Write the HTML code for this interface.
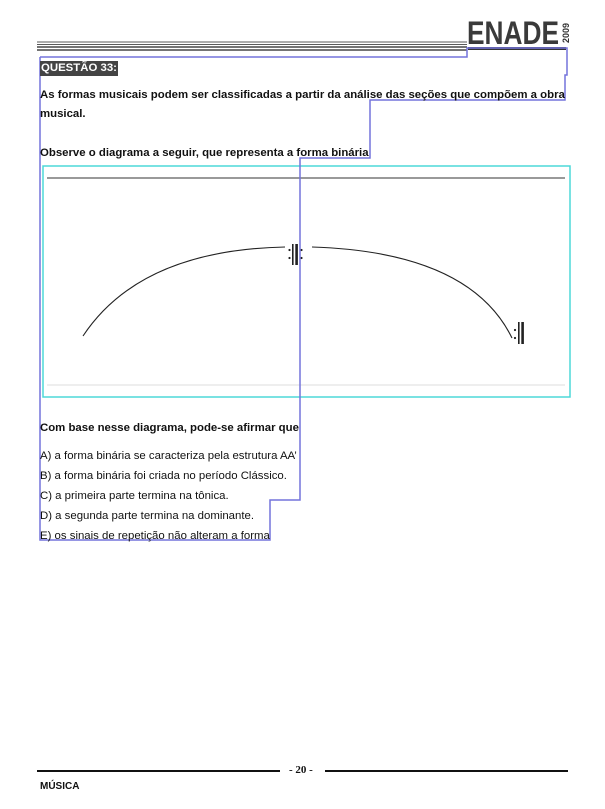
<!DOCTYPE html>
<html><head><meta charset="utf-8"><style>
body{margin:0;width:605px;height:809px;background:#fff;position:relative;overflow:hidden;font-family:"Liberation Sans",Arial,sans-serif;color:#111}
.t{position:absolute;white-space:nowrap;font-size:11.4px}
.b{font-weight:bold}
</style></head><body>
<svg width="605" height="809" style="position:absolute;left:0;top:0">
 <g stroke="#222">
  <line x1="37" y1="42" x2="467" y2="42" stroke-width="0.8"/>
  <line x1="37" y1="44.5" x2="467" y2="44.5" stroke-width="0.8"/>
  <line x1="37" y1="47" x2="467" y2="47" stroke-width="1.2"/>
  <line x1="37" y1="50" x2="467" y2="50" stroke-width="1.2"/>
 </g>
 <rect x="468" y="47" width="98" height="3" fill="#333"/>
 <text x="467" y="44" font-family="Liberation Sans Narrow,Liberation Sans,sans-serif" font-weight="bold" font-size="32" fill="#3a3a3a" textLength="92" lengthAdjust="spacingAndGlyphs">ENADE</text>
 <text transform="translate(569,43) rotate(-90)" font-family="Liberation Sans" font-weight="bold" font-size="9" fill="#333">2009</text>
 <g>
  <line x1="47" y1="178" x2="565" y2="178" stroke="#333" stroke-width="1"/>
  <line x1="47" y1="385" x2="565" y2="385" stroke="#ddd" stroke-width="1"/>
  <path d="M83,336 Q140,250 285,247" fill="none" stroke="#222" stroke-width="1.1"/>
  <path d="M312,247 Q470,252 512,338" fill="none" stroke="#222" stroke-width="1.1"/>
  <g fill="#222">
   <circle cx="289.5" cy="250" r="1.1"/><circle cx="289.5" cy="258" r="1.1"/>
   <rect x="292" y="244" width="1.6" height="21"/><rect x="295.3" y="244" width="2.6" height="21"/>
   <circle cx="301.5" cy="250" r="1.1"/><circle cx="301.5" cy="258" r="1.1"/>
  </g>
  <g fill="#222">
   <circle cx="515" cy="330" r="1.1"/><circle cx="515" cy="338" r="1.1"/>
   <rect x="518" y="322" width="1.6" height="22"/><rect x="521.3" y="322" width="2.6" height="22"/>
  </g>
 </g>
 <rect x="43" y="166" width="527" height="231" fill="none" stroke="#4dd8d8" stroke-width="1.5"/>
 <polyline points="40,57 467,57 467,48 567,48 567,75 565,75 565,100 370,100 370,158 300,158 300,500 270,500 270,540 40,540 40,57" fill="none" stroke="#7474dc" stroke-width="1.5"/>
 <g fill="#111">
  <rect x="37" y="770" width="243" height="2"/>
  <rect x="325" y="770" width="243" height="2"/>
 </g>
</svg>
<div class="t b" style="left:40px;top:61px;background:#444;color:#fff;padding:0 1px;line-height:15px">QUESTÃO 33:</div>
<div class="t b" style="left:40px;top:89px">As formas musicais podem ser classificadas a partir da análise das seções que compõem a obra</div>
<div class="t b" style="left:40px;top:108px">musical.</div>
<div class="t b" style="left:40px;top:147px">Observe o diagrama a seguir, que representa a forma binária</div>
<div class="t b" style="left:40px;top:422px">Com base nesse diagrama, pode-se afirmar que</div>
<div class="t" style="left:40px;top:450px">A) a forma binária se caracteriza pela estrutura AA’</div>
<div class="t" style="left:40px;top:470px">B) a forma binária foi criada no período Clássico.</div>
<div class="t" style="left:40px;top:490px">C) a primeira parte termina na tônica.</div>
<div class="t" style="left:40px;top:510px">D) a segunda parte termina na dominante.</div>
<div class="t" style="left:40px;top:530px">E) os sinais de repetição não alteram a forma</div>
<div class="t b" style="left:289px;top:764px;font-family:'Liberation Serif',serif;font-size:11px">- 20 -</div>
<div class="t b" style="left:40px;top:781px;font-size:10px">MÚSICA</div>
</body></html>
